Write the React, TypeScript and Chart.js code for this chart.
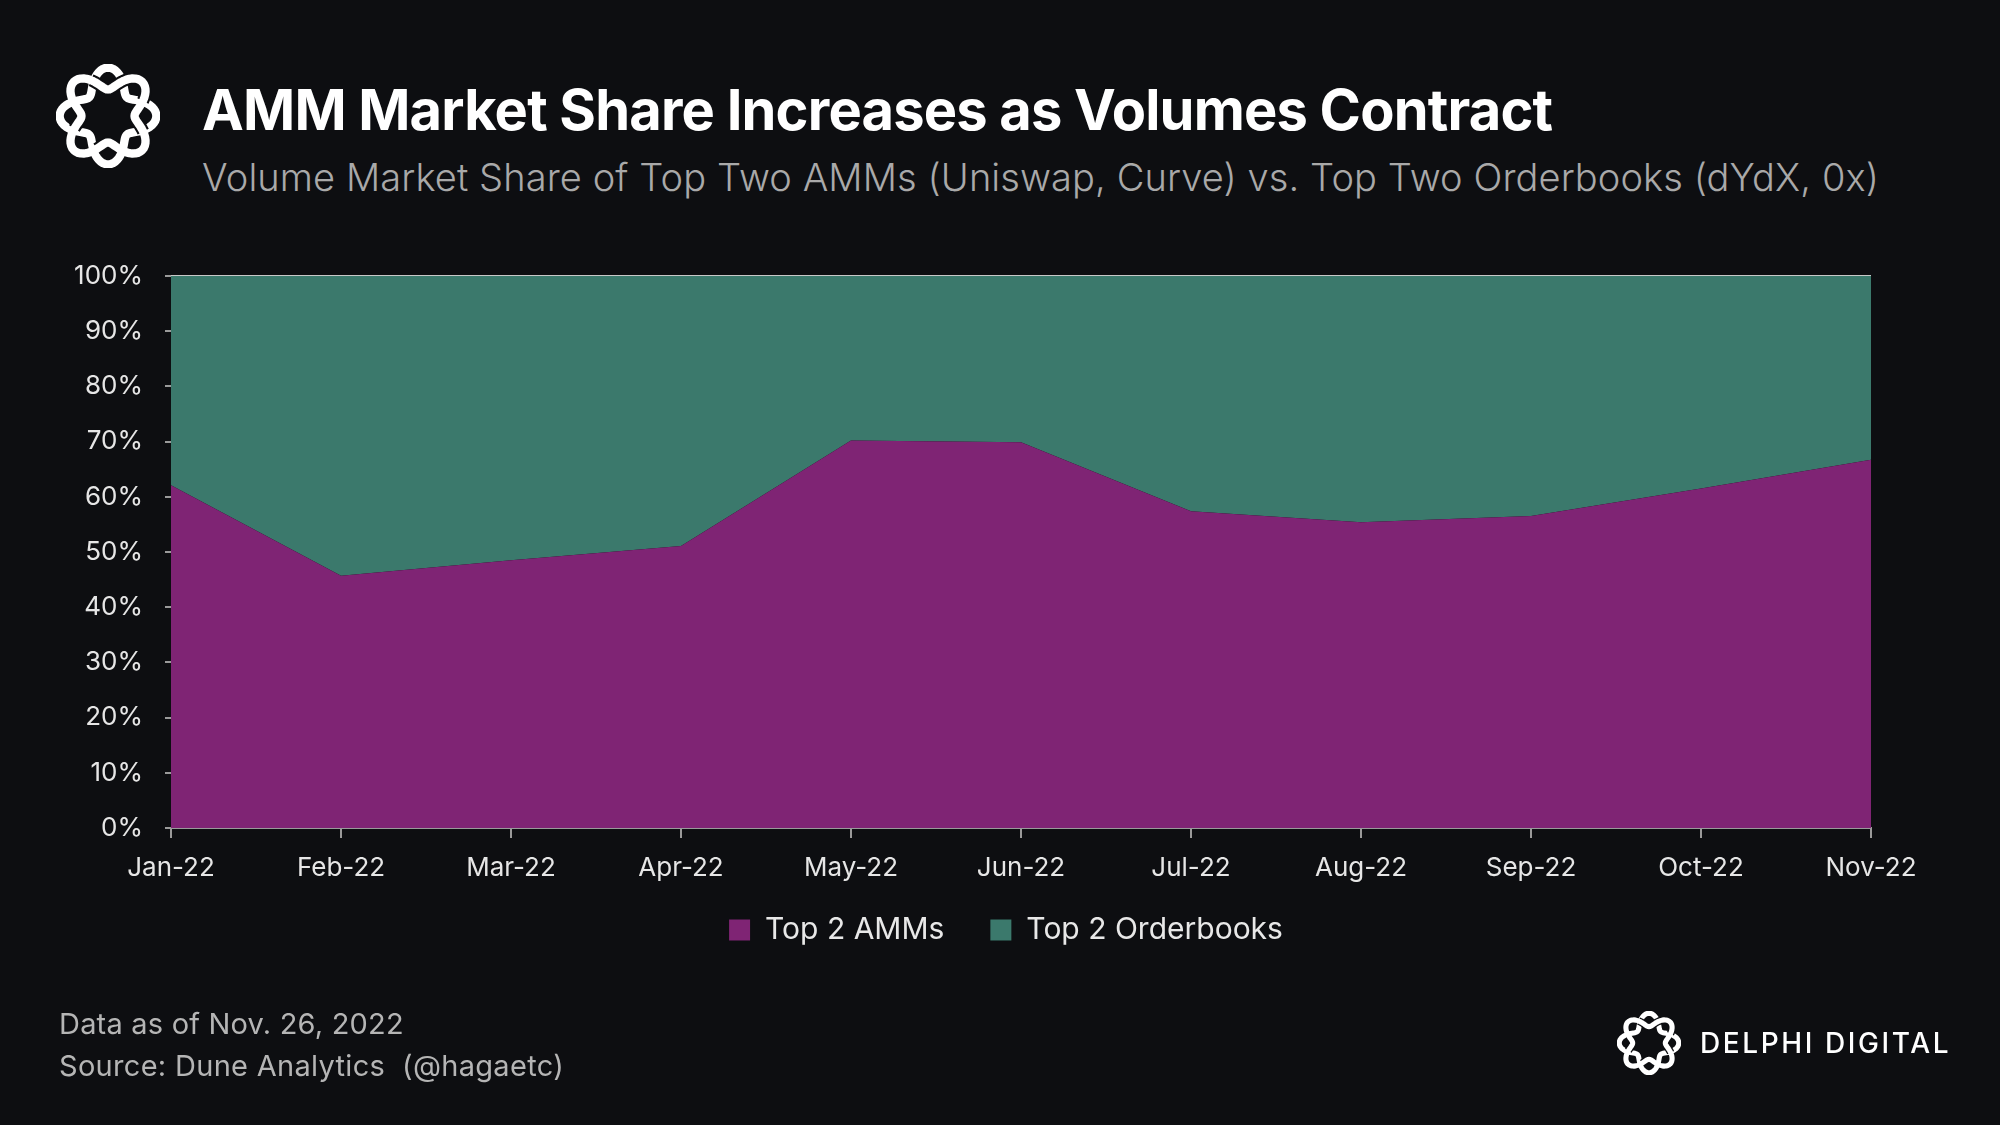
import React, { useEffect, useRef } from "react";
import { Chart, registerables } from "chart.js";

Chart.register(...registerables);

const categories = ["Jan-22", "Feb-22", "Mar-22", "Apr-22", "May-22", "Jun-22", "Jul-22", "Aug-22", "Sep-22", "Oct-22", "Nov-22"];
const ammShare = [62.1, 45.7, 48.5, 51.1, 70.2, 69.9, 57.4, 55.4, 56.5, 61.5, 66.7];
const orderbookShare = [37.9, 54.3, 51.5, 48.9, 29.8, 30.1, 42.6, 44.6, 43.5, 38.5, 33.3];
const seriesNames = ["Top 2 AMMs", "Top 2 Orderbooks"];

const BG = "#0d0e11";
const PURPLE = "#7f2474";
const TEAL = "#3b796c";
const FONT = "Inter, 'Noto Sans', sans-serif";

function strandPath(sign: number) {
  const R = 36;
  const A = 10.5;
  const pts: string[] = [];
  for (let i = 0; i <= 360; i += 3) {
    const t = (i * Math.PI) / 180;
    const r = R + sign * A * Math.cos(4 * t);
    const x = r * Math.sin(t);
    const y = -r * Math.cos(t);
    pts.push(`${i === 0 ? "M" : "L"}${x.toFixed(2)} ${y.toFixed(2)}`);
  }
  return pts.join(" ") + " Z";
}

function Knot({ size }: { size: number }) {
  const p1 = strandPath(1);
  const p2 = strandPath(-1);
  return (
    <svg width={size} height={size} viewBox="-50 -50 100 100">
      <path d={p1} fill="none" stroke="#ffffff" strokeWidth={8} strokeLinejoin="round" />
      <path d={p2} fill="none" stroke={BG} strokeWidth={12} strokeLinejoin="round" strokeDasharray="22 12" />
      <path d={p2} fill="none" stroke="#ffffff" strokeWidth={8} strokeLinejoin="round" />
    </svg>
  );
}

const legendShift = {
  id: "legendShift",
  afterLayout(chart: any) {
    const lg = chart.legend;
    if (!lg) return;
    lg.left += 50;
    lg.right += 50;
    lg.top -= 34;
    lg.bottom -= 34;
  },
};

export default function App() {
  const canvasRef = useRef<HTMLCanvasElement | null>(null);

  useEffect(() => {
    document.body.style.margin = "0";
    document.body.style.background = BG;
    const canvas = canvasRef.current;
    if (!canvas) return;
    const chart = new Chart(canvas, {
      type: "line",
      data: {
        labels: categories,
        datasets: [
          {
            label: seriesNames[0],
            data: ammShare,
            fill: "origin",
            backgroundColor: PURPLE,
            borderColor: PURPLE,
            borderWidth: 0,
            pointRadius: 0,
            tension: 0,
          },
          {
            label: seriesNames[1],
            data: orderbookShare,
            fill: "-1",
            backgroundColor: TEAL,
            borderColor: TEAL,
            borderWidth: 0,
            pointRadius: 0,
            tension: 0,
          },
        ],
      },
      plugins: [legendShift],
      options: {
        animation: false,
        responsive: false,
        devicePixelRatio: 1,
        layout: { padding: { left: 41, top: 276, right: 129, bottom: 136 } },
        plugins: {
          legend: {
            position: "bottom",
            labels: {
              color: "#e8e8e8",
              font: { family: FONT, size: 30 },
              boxWidth: 21,
              boxHeight: 21,
              padding: 46,
            },
          },
          tooltip: { enabled: false },
        },
        scales: {
          x: {
            z: 1,
            grid: { display: true, drawOnChartArea: false, tickLength: 10, color: "#9a9a9a", tickColor: "#9a9a9a", lineWidth: 2 },
            border: { display: true, color: "#9a9a9a", width: 2 },
            ticks: { color: "#e6e6e6", font: { family: FONT, size: 26 }, padding: 15, maxRotation: 0, autoSkip: false },
            afterFit: (s: any) => {
              s.height = 75;
            },
          },
          y: {
            stacked: true,
            min: 0,
            max: 100,
            z: 1,
            ticks: {
              stepSize: 10,
              color: "#e6e6e6",
              font: { family: FONT, size: 26 },
              padding: 22,
              callback: (v: any) => v + "%",
            },
            grid: {
              drawOnChartArea: true,
              color: (ctx: any) => (ctx.tick && ctx.tick.value === 100 ? "#c8c8c8" : "rgba(0,0,0,0)"),
              tickColor: "#9a9a9a",
              tickLength: 6,
              lineWidth: 2,
            },
            border: { display: false },
            afterFit: (s: any) => {
              s.width = 130;
            },
          },
        },
      },
    });
    return () => chart.destroy();
  }, []);

  return (
    <div style={{ position: "absolute", left: 0, top: 0, width: 2000, height: 1125, background: BG, overflow: "hidden", fontFamily: FONT }}>
      <div style={{ position: "absolute", left: 56, top: 64 }}>
        <Knot size={104} />
      </div>
      <div style={{ position: "absolute", left: 202, top: 76, color: "#ffffff", fontSize: 56, fontWeight: 700, letterSpacing: -0.8, lineHeight: "68px", whiteSpace: "nowrap" }}>
        AMM Market Share Increases as Volumes Contract
      </div>
      <div style={{ position: "absolute", left: 202, top: 154, color: "#a9a9a9", fontSize: 38, fontWeight: 300, letterSpacing: 0.1, lineHeight: "46px", whiteSpace: "nowrap" }}>
        Volume Market Share of Top Two AMMs (Uniswap, Curve) vs. Top Two Orderbooks (dYdX, 0x)
      </div>
      <canvas ref={canvasRef} width={2000} height={1125} style={{ position: "absolute", left: 0, top: 0, width: 2000, height: 1125 }} />
      <div style={{ position: "absolute", left: 59, top: 1006, color: "#b5b5b5", fontSize: 29, letterSpacing: 0.2, lineHeight: "36px", whiteSpace: "nowrap" }}>
        Data as of Nov. 26, 2022
      </div>
      <div style={{ position: "absolute", left: 59, top: 1048, color: "#b5b5b5", fontSize: 29, letterSpacing: 0.3, lineHeight: "36px", whiteSpace: "nowrap" }}>
        Source: Dune Analytics&nbsp; (@hagaetc)
      </div>
      <div style={{ position: "absolute", left: 1617, top: 1011 }}>
        <Knot size={64} />
      </div>
      <div style={{ position: "absolute", left: 1700, top: 1026, color: "#ffffff", fontSize: 28, fontWeight: 500, letterSpacing: 2.6, lineHeight: "34px", whiteSpace: "nowrap" }}>
        DELPHI DIGITAL
      </div>
    </div>
  );
}
